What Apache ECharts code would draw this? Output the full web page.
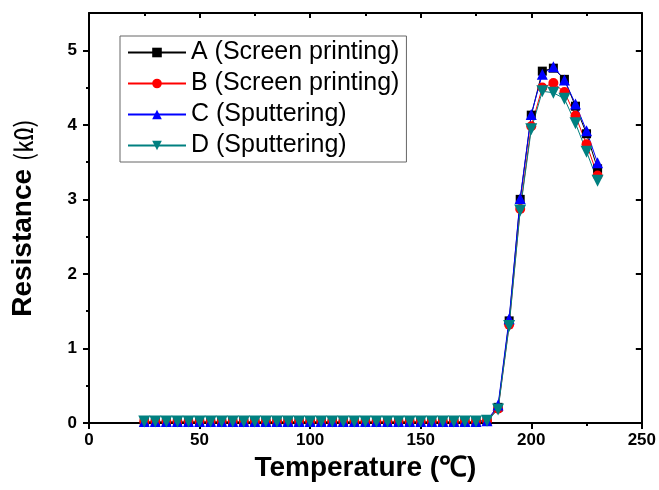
<!DOCTYPE html>
<html>
<head>
<meta charset="utf-8">
<script src="https://cdn.jsdelivr.net/npm/echarts@6/dist/echarts.min.js"></script>
<style>
  html, body { margin: 0; padding: 0; background: #fff; }
  #chart { width: 659px; height: 490px; }
</style>
</head>
<body>
<div id="chart"></div>
<script>
// temperature (℃)
var temps = [25, 30, 35, 40, 45, 50, 55, 60, 65, 70, 75, 80, 85, 90, 95, 100,
  105, 110, 115, 120, 125, 130, 135, 140, 145, 150, 155, 160, 165, 170, 175, 180,
  185, 190, 195, 200, 205, 210, 215, 220, 225, 230]

// resistance (kΩ) per sample
var resA = [0.02, 0.02, 0.02, 0.02, 0.02, 0.02, 0.02, 0.02, 0.02, 0.02, 0.02, 0.02, 0.02, 0.02, 0.02, 0.02,
  0.02, 0.02, 0.02, 0.02, 0.02, 0.02, 0.02, 0.02, 0.02, 0.02, 0.02, 0.02, 0.02, 0.02, 0.02, 0.03,
  0.21, 1.37, 3.00, 4.13, 4.72, 4.76, 4.61, 4.25, 3.88, 3.41]
var resB = [0.02, 0.02, 0.02, 0.02, 0.02, 0.02, 0.02, 0.02, 0.02, 0.02, 0.02, 0.02, 0.02, 0.02, 0.02, 0.02,
  0.02, 0.02, 0.02, 0.02, 0.02, 0.02, 0.02, 0.02, 0.02, 0.02, 0.02, 0.02, 0.02, 0.02, 0.02, 0.03,
  0.19, 1.32, 2.87, 3.98, 4.50, 4.56, 4.44, 4.12, 3.74, 3.32]
var resC = [0.02, 0.02, 0.02, 0.02, 0.02, 0.02, 0.02, 0.02, 0.02, 0.02, 0.02, 0.02, 0.02, 0.02, 0.02, 0.02,
  0.02, 0.02, 0.02, 0.02, 0.02, 0.02, 0.02, 0.02, 0.02, 0.02, 0.02, 0.02, 0.02, 0.02, 0.02, 0.03,
  0.24, 1.40, 3.01, 4.14, 4.68, 4.78, 4.60, 4.28, 3.92, 3.49]
var resD = [0.02, 0.02, 0.02, 0.02, 0.02, 0.02, 0.02, 0.02, 0.02, 0.02, 0.02, 0.02, 0.02, 0.02, 0.02, 0.02,
  0.02, 0.02, 0.02, 0.02, 0.02, 0.02, 0.02, 0.02, 0.02, 0.02, 0.02, 0.02, 0.02, 0.02, 0.02, 0.03,
  0.18, 1.30, 2.85, 3.94, 4.45, 4.43, 4.35, 4.02, 3.64, 3.25]

var names = ['A (Screen printing)', 'B (Screen printing)', 'C (Sputtering)', 'D (Sputtering)']

// tick positions
var yMajor = [0, 1, 2, 3, 4, 5]
var yMinor = [0.5, 1.5, 2.5, 3.5, 4.5]

var FONT = 'Liberation Sans'
var downTri = 'path://M0,0 L10,0 L5,9 Z'

function pairs (vals) {
  return temps.map(function (t, i) { return [t, vals[i]] })
}

function mkSeries (name, vals, color, symbol, size) {
  return {
    name: name,
    type: 'line',
    data: pairs(vals),
    xAxisIndex: 0,
    yAxisIndex: 0,
    color: color,
    symbol: symbol,
    symbolSize: size,
    showAllSymbol: true,
    lineStyle: { color: color, width: 1 },
    itemStyle: { color: color },
    animation: false
  }
}

var chart = echarts.init(document.getElementById('chart'))

var axisLine = { show: true, onZero: false, lineStyle: { color: '#000', width: 2 } }
var noLabel = { show: false }

var option = {
  backgroundColor: '#fff',
  animation: false,
  grid: { left: 89, right: 17, top: 13, bottom: 67, containLabel: false },
  legend: {
    orient: 'vertical',
    left: 120,
    top: 36,
    padding: [4, 7, 4, 7],
    itemGap: 6,
    itemWidth: 58,
    itemHeight: 12,
    borderColor: '#666',
    borderWidth: 1,
    data: names,
    textStyle: { fontFamily: FONT, fontSize: 25, color: '#000', padding: [0, 0, 0, 0] }
  },
  xAxis: [
    {
      type: 'value', position: 'bottom', min: 0, max: 250, interval: 50,
      name: 'Temperature (℃)', nameLocation: 'middle', nameGap: 30,
      nameTextStyle: { fontFamily: FONT, fontWeight: 'bold', fontSize: 28, color: '#000' },
      axisLine: axisLine,
      axisTick: { show: true, length: 6, lineStyle: { color: '#000', width: 2 } },
      minorTick: { show: true, splitNumber: 2, length: 3, lineStyle: { color: '#000', width: 2 } },
      axisLabel: { fontFamily: FONT, fontWeight: 'bold', fontSize: 17, color: '#000', margin: 9 },
      splitLine: { show: false }
    },
    {
      type: 'value', position: 'top', min: 0, max: 250, interval: 50,
      axisLine: axisLine,
      axisTick: { show: true, inside: true, length: 5, lineStyle: { color: '#000', width: 2 } },
      minorTick: { show: true, splitNumber: 2, length: 3, lineStyle: { color: '#000', width: 2 } },
      axisLabel: noLabel,
      splitLine: { show: false }
    }
  ],
  yAxis: [
    {
      type: 'value', position: 'left', min: 0, max: 5.5, interval: 1,
      name: '{b|Resistance }{u|(㏀)}', nameLocation: 'middle', nameGap: 52,
      nameTextStyle: {
        rich: {
          b: { fontFamily: FONT, fontWeight: 'bold', fontSize: 28, color: '#000' },
          u: { fontFamily: 'Noto Sans CJK KR', fontSize: 25, color: '#000' }
        }
      },
      axisLine: axisLine,
      axisTick: { show: true, length: 6, customValues: yMajor, lineStyle: { color: '#000', width: 2 } },
      axisLabel: { fontFamily: FONT, fontWeight: 'bold', fontSize: 17, color: '#000', margin: 12, customValues: yMajor },
      splitLine: { show: false }
    },
    {
      type: 'value', position: 'left', min: 0, max: 5.5,
      axisLine: { show: false },
      axisTick: { show: true, length: 3, customValues: yMinor, lineStyle: { color: '#000', width: 2 } },
      axisLabel: noLabel,
      splitLine: { show: false }
    },
    {
      type: 'value', position: 'right', min: 0, max: 5.5,
      axisLine: axisLine,
      axisTick: { show: true, inside: true, length: 6, customValues: yMajor, lineStyle: { color: '#000', width: 2 } },
      axisLabel: noLabel,
      splitLine: { show: false }
    },
    {
      type: 'value', position: 'right', min: 0, max: 5.5,
      axisLine: { show: false },
      axisTick: { show: true, inside: true, length: 3, customValues: yMinor, lineStyle: { color: '#000', width: 2 } },
      axisLabel: noLabel,
      splitLine: { show: false }
    }
  ],
  series: [
    mkSeries(names[0], resA, '#000000', 'rect', 9),
    mkSeries(names[1], resB, '#ff0000', 'circle', 10),
    mkSeries(names[2], resC, '#0000ff', 'triangle', 11),
    mkSeries(names[3], resD, '#008080', downTri, 12)
  ]
}

chart.setOption(option)
</script>
</body>
</html>
